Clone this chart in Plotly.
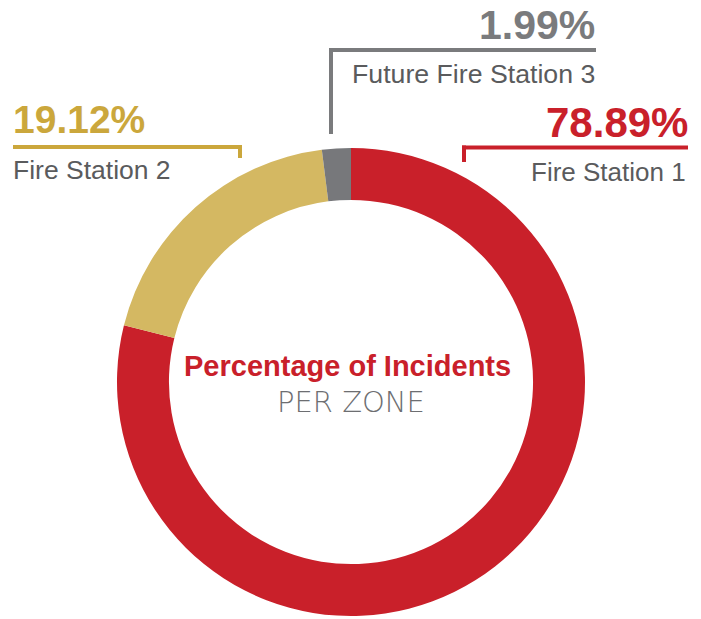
import plotly.graph_objects as go

# ---- data ----
zones = ["Fire Station 1", "Fire Station 2", "Future Fire Station 3"]
shares = [78.89, 19.12, 1.99]
pct_labels = ["78.89%", "19.12%", "1.99%"]
ring_colors = ["#C9202A", "#D4B862", "#77787B"]
label_colors = ["#C9202A", "#CBA73C", "#7A7B7D"]

W, H = 701, 619

def px(x):
    return x / W

def py(y):
    return 1 - y / H

cx, cy, R = 351, 382, 234

fig = go.Figure(go.Pie(
    labels=zones,
    values=shares,
    hole=0.778,
    sort=False,
    direction="clockwise",
    rotation=0,
    marker=dict(colors=ring_colors, line=dict(width=0)),
    textinfo="none",
    hoverinfo="label+percent",
    domain=dict(x=[px(cx - R), px(cx + R)], y=[py(cy + R), py(cy - R)]),
    showlegend=False,
))

FONT = "Liberation Sans, Arial, sans-serif"
ann = []
# Fire Station 2 (left)
ann.append(dict(x=px(11), y=py(119), xanchor="left", yanchor="middle",
                text="<b>" + pct_labels[1] + "</b>",
                font=dict(family=FONT, size=39, color=label_colors[1])))
ann.append(dict(x=px(11), y=py(170), xanchor="left", yanchor="middle",
                text=zones[1], font=dict(family=FONT, size=26.5, color="#5A5B5D")))
# Future Fire Station 3 (top)
ann.append(dict(x=px(597), y=py(25), xanchor="right", yanchor="middle",
                text="<b>" + pct_labels[2] + "</b>",
                font=dict(family=FONT, size=41, color=label_colors[2])))
ann.append(dict(x=px(597), y=py(74), xanchor="right", yanchor="middle",
                text=zones[2], font=dict(family=FONT, size=26.7, color="#5A5B5D")))
# Fire Station 1 (right)
ann.append(dict(x=px(690), y=py(122), xanchor="right", yanchor="middle",
                text="<b>" + pct_labels[0] + "</b>",
                font=dict(family=FONT, size=42, color=label_colors[0])))
ann.append(dict(x=px(688), y=py(172), xanchor="right", yanchor="middle",
                text=zones[0], font=dict(family=FONT, size=26, color="#5A5B5D")))
# centre text
ann.append(dict(x=px(347), y=py(366), xanchor="center", yanchor="middle",
                text="<b>Percentage of Incidents</b>",
                font=dict(family=FONT, size=29, color="#C9202A")))
ann.append(dict(x=px(351), y=py(402), xanchor="center", yanchor="middle",
                text="PER ZONE",
                font=dict(family="DejaVu Sans", size=29, color="#6D6E71", weight=200)))
for a in ann:
    a.update(xref="paper", yref="paper", showarrow=False)

shapes = []
def bracket(x0, x1, y, tick_x, tick_y1, color):
    shapes.append(dict(type="line", xref="paper", yref="paper",
                       x0=px(x0), x1=px(x1), y0=py(y), y1=py(y),
                       line=dict(color=color, width=4)))
    shapes.append(dict(type="line", xref="paper", yref="paper",
                       x0=px(tick_x), x1=px(tick_x), y0=py(y - 2), y1=py(tick_y1),
                       line=dict(color=color, width=4)))

bracket(13, 242, 147, 240, 158, label_colors[1])
bracket(329, 596, 50, 331, 134, label_colors[2])
bracket(462, 688, 147.5, 464, 162, label_colors[0])

fig.update_layout(
    width=W, height=H,
    margin=dict(l=0, r=0, t=0, b=0),
    paper_bgcolor="white", plot_bgcolor="white",
    annotations=ann, shapes=shapes,
)
fig.write_html(
    "out.html",
    config={"displayModeBar": False},
    post_script="document.body.style.margin='0';document.body.style.overflow='hidden';",
)
